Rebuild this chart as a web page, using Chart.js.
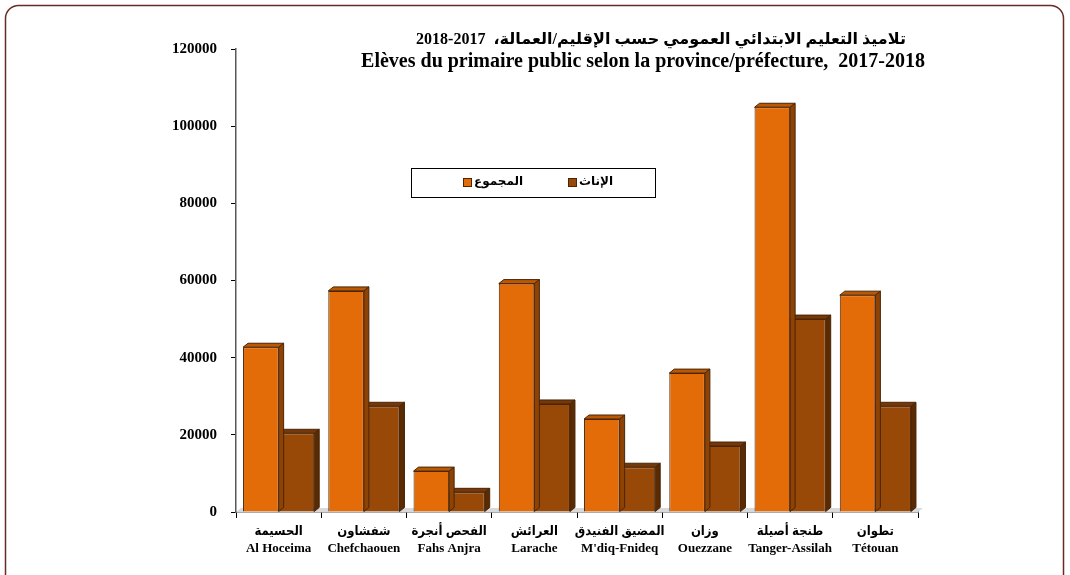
<!DOCTYPE html>
<html>
<head>
<meta charset="utf-8">
<script src="https://cdn.jsdelivr.net/npm/chart.js@4"></script>
<style>
  html, body { margin: 0; padding: 0; background: #fff; }
  #wrap { width: 1070px; height: 575px; position: relative; }
</style>
</head>
<body>
<div id="wrap"><canvas id="graph1" width="1070" height="575"></canvas></div>
<script>
var categoriesAr = ['الحسيمة', 'شفشاون', 'الفحص أنجرة', 'العرائش', 'المضيق الفنيدق', 'وزان', 'طنجة أصيلة', 'تطوان'];
var categoriesFr = ['Al Hoceima', 'Chefchaouen', 'Fahs Anjra', 'Larache', "M'diq-Fnideq", 'Ouezzane', 'Tanger-Assilah', 'Tétouan'];
var totalValues = [42700, 57300, 10600, 59200, 24100, 36000, 104900, 56200];
var femaleValues = [20400, 27400, 5100, 28000, 11600, 17100, 50000, 27400];
var seriesLabels = ['المجموع', 'الإناث'];
var titleLines = [
    'تلاميذ التعليم الابتدائي العمومي حسب الإقليم/العمالة،  2017-2018',
    'Elèves du primaire public selon la province/préfecture,  2017-2018'
];

var frontColors = ['#E36C09', '#984807'];
var sideColors = ['#8E4204', '#5A2A03'];
var topColors = ['#B95805', '#74380A'];
var edgeColor = '#4A2506';

// frame, floor, title, legend box
var decoPlugin = {
    id: 'deco',
    beforeDatasetsDraw(chart) {
        var ctx = chart.ctx, a = chart.chartArea;
        ctx.save();
        ctx.fillStyle = '#D9D9D9';
        ctx.beginPath();
        ctx.moveTo(a.left, a.bottom);
        ctx.lineTo(a.left + 5, a.bottom - 4);
        ctx.lineTo(a.right + 5, a.bottom - 4);
        ctx.lineTo(a.right, a.bottom);
        ctx.closePath();
        ctx.fill();
        ctx.restore();
    },
    afterDraw(chart) {
        var ctx = chart.ctx;
        ctx.save();
        ctx.strokeStyle = '#6B2A2A';
        ctx.lineWidth = 1.5;
        ctx.beginPath();
        ctx.roundRect(5.5, 5.5, 1058, 590, 13);
        ctx.stroke();

        ctx.fillStyle = '#000';
        ctx.textAlign = 'center';
        ctx.textBaseline = 'middle';
        ctx.font = 'bold 16px "Liberation Serif", "DejaVu Sans"';
        ctx.fillText(titleLines[0], 661, 40);
        ctx.font = 'bold 20px "Liberation Serif"';
        ctx.fillText(titleLines[1], 643, 62);

        ctx.strokeStyle = '#000';
        ctx.lineWidth = 1;
        ctx.strokeRect(411.5, 168.5, 244, 29);
        var lx = [463, 568];
        ctx.font = 'bold 12px "Liberation Sans", "DejaVu Sans"';
        ctx.textAlign = 'left';
        for (var i = 0; i < 2; i++) {
            ctx.fillStyle = frontColors[i];
            ctx.fillRect(lx[i], 178, 8, 8);
            ctx.strokeStyle = edgeColor;
            ctx.strokeRect(lx[i] + 0.5, 178.5, 8, 8);
            ctx.fillStyle = '#000';
            ctx.fillText(seriesLabels[i], lx[i] + 11, 182);
        }
        ctx.restore();
    }
};

// 3d top and side faces
var barsPlugin = {
    id: 'bars3d',
    afterDatasetDraw(chart, args) {
        var ctx = chart.ctx, dx = 5, dy = 4;
        ctx.save();
        ctx.strokeStyle = edgeColor;
        ctx.lineWidth = 1;
        args.meta.data.forEach(function (bar) {
            var p = bar.getProps(['x', 'y', 'base', 'width'], true);
            var l = p.x - p.width / 2, r = p.x + p.width / 2;
            ctx.fillStyle = topColors[args.index];
            ctx.beginPath();
            ctx.moveTo(l, p.y);
            ctx.lineTo(l + dx, p.y - dy);
            ctx.lineTo(r + dx, p.y - dy);
            ctx.lineTo(r, p.y);
            ctx.closePath();
            ctx.fill();
            ctx.stroke();
            ctx.fillStyle = sideColors[args.index];
            ctx.beginPath();
            ctx.moveTo(r, p.y);
            ctx.lineTo(r + dx, p.y - dy);
            ctx.lineTo(r + dx, p.base - dy);
            ctx.lineTo(r, p.base);
            ctx.closePath();
            ctx.fill();
            ctx.stroke();
        });
        ctx.restore();
    }
};

var labels = categoriesAr.map(function (ar, i) { return [ar, categoriesFr[i]]; });

var ctx = document.getElementById('graph1').getContext('2d');
var graph1 = new Chart(ctx, {
    type: 'bar',
    data: {
        labels: labels,
        datasets: [
            { label: seriesLabels[0], data: totalValues, backgroundColor: frontColors[0], borderColor: edgeColor, borderWidth: 1 },
            { label: seriesLabels[1], data: femaleValues, backgroundColor: frontColors[1], borderColor: edgeColor, borderWidth: 1 }
        ]
    },
    options: {
        responsive: false,
        animation: false,
        categoryPercentage: 0.835,
        barPercentage: 1,
        layout: { padding: { left: 136, right: 152, top: 49, bottom: 0 } },
        plugins: {
            legend: { display: false },
            title: { display: false },
            tooltip: { enabled: false }
        },
        scales: {
            x: {
                afterFit: function (s) { s.height = 63; },
                grid: { display: true, drawOnChartArea: false, tickLength: 6, color: '#000' },
                border: { color: '#595959', width: 1.5 },
                ticks: {
                    color: '#000',
                    padding: 5,
                    maxRotation: 0,
                    autoSkip: false,
                    font: { family: '"Liberation Serif", "DejaVu Sans Condensed", "DejaVu Sans"', size: 13, weight: 'bold', lineHeight: 1.3 }
                }
            },
            y: {
                min: 0,
                max: 120000,
                afterFit: function (s) { s.width = 100; },
                grid: { display: true, drawOnChartArea: false, tickLength: 5, color: '#000' },
                border: { color: '#595959', width: 1.5 },
                ticks: {
                    stepSize: 20000,
                    color: '#000',
                    padding: 14,
                    callback: function (v) { return String(v); },
                    font: { family: '"Liberation Serif"', size: 15, weight: 'bold' }
                }
            }
        }
    },
    plugins: [decoPlugin, barsPlugin]
});
</script>
</body>
</html>
